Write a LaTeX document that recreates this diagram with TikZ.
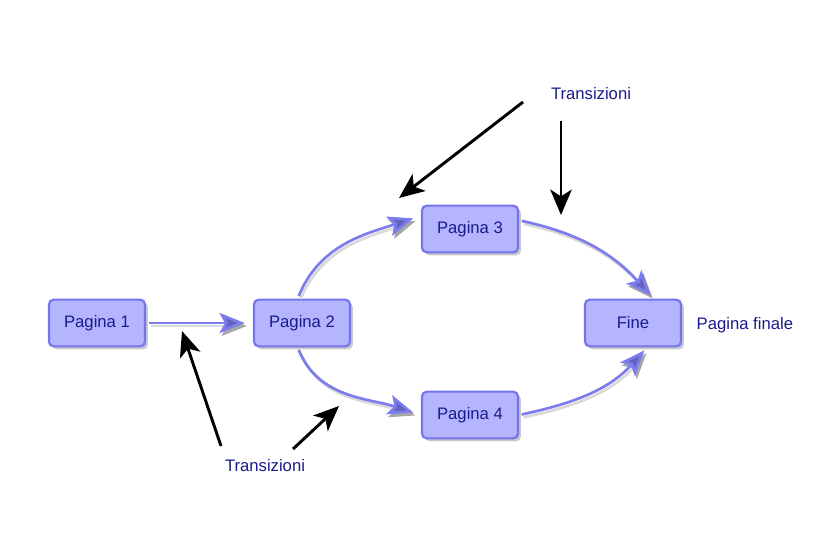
\documentclass[tikz,border=0pt]{standalone}
\usepackage{fontspec}
\setmainfont{Liberation Sans}
\usetikzlibrary{arrows.meta,shadows,calc}
\definecolor{txt}{HTML}{1A1A8C}
\definecolor{boxfill}{HTML}{B5B5FF}
\definecolor{boxline}{HTML}{7474EC}
\definecolor{flow}{HTML}{7C7CEE}
\tikzset{
  page/.style={draw=boxline, fill=boxfill, line width=1.6pt, rounded corners=3.5pt,
    minimum width=72pt, minimum height=35pt, text=txt, font=\fontsize{12.5}{14}\selectfont,
    drop shadow={shadow xshift=2.2pt, shadow yshift=-2.2pt, opacity=0.3, fill=black!70}},
  lbl/.style={text=txt, font=\fontsize{12.5}{14}\selectfont},
  flowarr/.style={draw=flow, line width=2pt, shorten <=2pt, shorten >=6pt,
    -{Stealth[length=19pt,width=15pt,inset=4pt,fill=flow!80!black]},
    preaction={draw=black!15, line width=2pt, transform canvas={shift={(1.5pt,-2.2pt)}},
      -{Stealth[length=19pt,width=15pt,inset=4pt,color=black!35,fill=black!35]}}},
  pointer/.style={draw=black, line width=2.2pt, -{Stealth[length=19pt,width=16pt,inset=5pt]}}
}
\begin{document}
\begin{tikzpicture}[x=0.75pt,y=-0.75pt]
\useasboundingbox (0,0) rectangle (820,558);
\node[page] (p1) at (97,323) {Pagina 1};
\node[page] (p2) at (302,323) {Pagina 2};
\node[page] (p3) at (470,229) {Pagina 3};
\node[page] (p4) at (470,415) {Pagina 4};
\node[page] (fine) at (633,323) {Fine};
\node[lbl, anchor=west] (finale) at (692,325) {Pagina finale};
\node[lbl] (t1) at (591,94) {Transizioni};
\node[lbl] (t2) at (265,466) {Transizioni};

\draw[flowarr] (p1.east) -- (p2.west);
\draw[flowarr] (p2.100) to[out=68,in=198] (p3.165);
\draw[flowarr] (p2.260) to[out=-68,in=162] (p4.west);
\draw[flowarr, shorten >=3pt] (p3.10) to[out=-12,in=132] (fine.50);
\draw[flowarr, shorten >=3pt] (p4.0) to[out=12,in=-132] (fine.-60);

\coordinate (b1s) at (523,102); \coordinate (b1e) at (399,198);
\coordinate (b2s) at (561,121); \coordinate (b2e) at (561,215);
\coordinate (b3s) at (221,446); \coordinate (b3e) at (182,331);
\coordinate (b4s) at (293,449); \coordinate (b4e) at (339,406);
\draw[pointer] (b1s) -- (b1e);
\draw[pointer] (b2s) -- (b2e);
\draw[pointer] (b3s) -- (b3e);
\draw[pointer] (b4s) -- (b4e);
\end{tikzpicture}
\end{document}
